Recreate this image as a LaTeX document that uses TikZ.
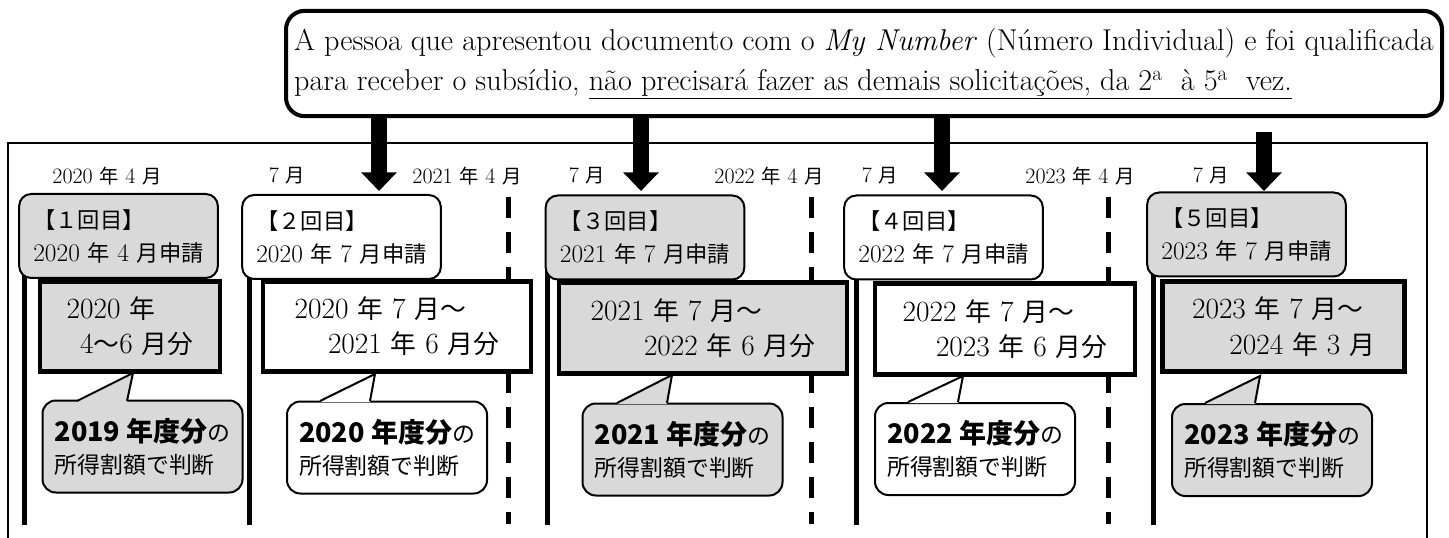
\documentclass[tikz,border=0pt]{standalone}
\usepackage{fontspec}
\newfontfamily\jpfont[Scale=0.88]{Noto Sans CJK JP}
\usetikzlibrary{arrows.meta, calc}
\definecolor{boxGray}{HTML}{D9D9D9}
\newcommand{\jp}[1]{{\jpfont #1}}
\tikzset{
  hdr/.style={draw, line width=1.5pt, rounded corners=9pt, minimum width=149pt, minimum height=63pt, align=left, inner sep=3pt, font=\fontsize{19}{24.75}\selectfont},
  prd/.style={draw, line width=3.6pt, minimum height=68pt, align=left, font=\fontsize{22}{26.5}\selectfont},
  bub/.style={draw, line width=1.5pt, rounded corners=10pt, minimum width=150pt, minimum height=69pt, align=left, inner sep=4pt, font=\fontsize{19.5}{24}\selectfont},
  tail/.style={line width=1.5pt, line join=miter},
  datelbl/.style={font=\fontsize{16.5}{18}\selectfont},
  bigarrow/.style={line width=12pt, -{Triangle[width=26pt, length=14pt]}},
  tline/.style={line width=3.75pt},
  dline/.style={line width=3.75pt, dash pattern=on 15.75pt off 10.5pt},
}
\newcommand{\yearbold}[1]{{\jpfont\bfseries\fontsize{23}{24}\selectfont #1}}

\begin{document}
\begin{tikzpicture}[x=0.75pt, y=-0.75pt]
  \useasboundingbox (0,0) rectangle (1449,538);
  % frame, open at the bottom
  \draw[line width=2pt] (8,538) -- (8,143) -- (1427,143) -- (1427,538);

  % timeline
  \draw[tline] (24,270) -- (24,525);
  \draw[tline] (249,270) -- (249,525);
  \draw[tline] (547,270) -- (547,525);
  \draw[tline] (856,270) -- (856,525);
  \draw[tline] (1153,270) -- (1153,525);
  \draw[dline] (508,197) -- (508,524);
  \draw[dline] (811,197) -- (811,524);
  \draw[dline] (1108,197) -- (1108,524);

  \node[datelbl] (d1) at (107,176) {2020 \jp{年} 4 \jp{月}};
  \node[datelbl] (d2) at (287,176) {7 \jp{月}};
  \node[datelbl] (d3) at (467,176) {2021 \jp{年} 4 \jp{月}};
  \node[datelbl] (d4) at (587,176) {7 \jp{月}};
  \node[datelbl] (d5) at (769,176) {2022 \jp{年} 4 \jp{月}};
  \node[datelbl] (d6) at (880,176) {7 \jp{月}};
  \node[datelbl] (d7) at (1080,176) {2023 \jp{年} 4 \jp{月}};
  \node[datelbl] (d8) at (1211,176) {7 \jp{月}};

  % applications
  \node[hdr, fill=boxGray] (h1) at (118.5,236) {\jp{【１回目】}\\2020 \jp{年} 4 \jp{月申請}};
  \node[hdr, fill=white] (h2) at (341.5,237) {\jp{【２回目】}\\2020 \jp{年} 7 \jp{月申請}};
  \node[hdr, fill=boxGray] (h3) at (645,237.5) {\jp{【３回目】}\\2021 \jp{年} 7 \jp{月申請}};
  \node[hdr, fill=white] (h4) at (943.5,237.5) {\jp{【４回目】}\\2022 \jp{年} 7 \jp{月申請}};
  \node[hdr, fill=boxGray] (h5) at (1246.5,234.5) {\jp{【５回目】}\\2023 \jp{年} 7 \jp{月申請}};

  % periods
  \node[prd, fill=boxGray, minimum width=135pt] (p1) at (130,326.5) {2020 \jp{年}\\\hspace*{10pt}4\jp{～}6 \jp{月分}};
  \node[prd, fill=white, minimum width=201pt] (p2) at (397,326.5) {2020 \jp{年} 7 \jp{月～}\\\hspace*{25pt}2021 \jp{年} 6 \jp{月分}};
  \node[prd, fill=boxGray, minimum width=216pt] (p3) at (703,328) {2021 \jp{年} 7 \jp{月～}\\\hspace*{40pt}2022 \jp{年} 6 \jp{月分}};
  \node[prd, fill=white, minimum width=195pt] (p4) at (1005,329) {2022 \jp{年} 7 \jp{月～}\\\hspace*{25pt}2023 \jp{年} 6 \jp{月分}};
  \node[prd, fill=boxGray, minimum width=182pt] (p5) at (1283.5,326.5) {2023 \jp{年} 7 \jp{月～}\\\hspace*{28pt}2024 \jp{年} 3 \jp{月}};

  % income year callouts
  \node[bub, fill=boxGray] (b1) at (142.5,446.5) {\yearbold{2019 年度分}\jp{の}\\\jp{所得割額で判断}};
  \fill[boxGray] (77,402) -- (133,373) -- (127,402) -- cycle;
  \draw[tail] (77,401) -- (133,373) -- (127,401);
  \node[bub, fill=white] (b2) at (387,447.5) {\yearbold{2020 年度分}\jp{の}\\\jp{所得割額で判断}};
  \fill[white] (320,402) -- (375,374) -- (370,402) -- cycle;
  \draw[tail] (320,401) -- (375,374) -- (370,401);
  \node[bub, fill=boxGray] (b3) at (682.5,449.5) {\yearbold{2021 年度分}\jp{の}\\\jp{所得割額で判断}};
  \fill[boxGray] (617,404) -- (672,375) -- (667,404) -- cycle;
  \draw[tail] (617,403) -- (672,375) -- (667,403);
  \node[bub, fill=white] (b4) at (975,449) {\yearbold{2022 年度分}\jp{の}\\\jp{所得割額で判断}};
  \fill[white] (908,403) -- (963,376) -- (958,403) -- cycle;
  \draw[tail] (908,402) -- (963,376) -- (958,402);
  \node[bub, fill=boxGray] (b5) at (1272,450) {\yearbold{2023 年度分}\jp{の}\\\jp{所得割額で判断}};
  \fill[boxGray] (1205,404) -- (1260,376) -- (1255,404) -- cycle;
  \draw[tail] (1205,403) -- (1260,376) -- (1255,403);

  % note on top
  \node[draw, line width=3pt, rounded corners=14pt, minimum width=867pt, minimum height=79pt, align=left, inner xsep=2pt, fill=white, font=\fontsize{22.6}{29.5}\selectfont] (note) at (864,63.5)
    {A pessoa que apresentou documento com o \textit{My Number} (Número Individual) e foi qualificada\\
     para receber o subsídio, \underline{não precisará fazer as demais solicitações, da 2\textsuperscript{a}\ \ à 5\textsuperscript{a}\ \ vez.}};

  \coordinate (t1) at (379,191);
  \coordinate (t2) at (641,191);
  \coordinate (t3) at (942,191);
  \coordinate (s4) at (1264,132);
  \coordinate (t4) at (1264,191);
  \draw[bigarrow] (note.south -| t1) -- (t1);
  \draw[bigarrow] (note.south -| t2) -- (t2);
  \draw[bigarrow] (note.south -| t3) -- (t3);
  \draw[bigarrow] (s4) -- (t4);
\end{tikzpicture}
\end{document}
